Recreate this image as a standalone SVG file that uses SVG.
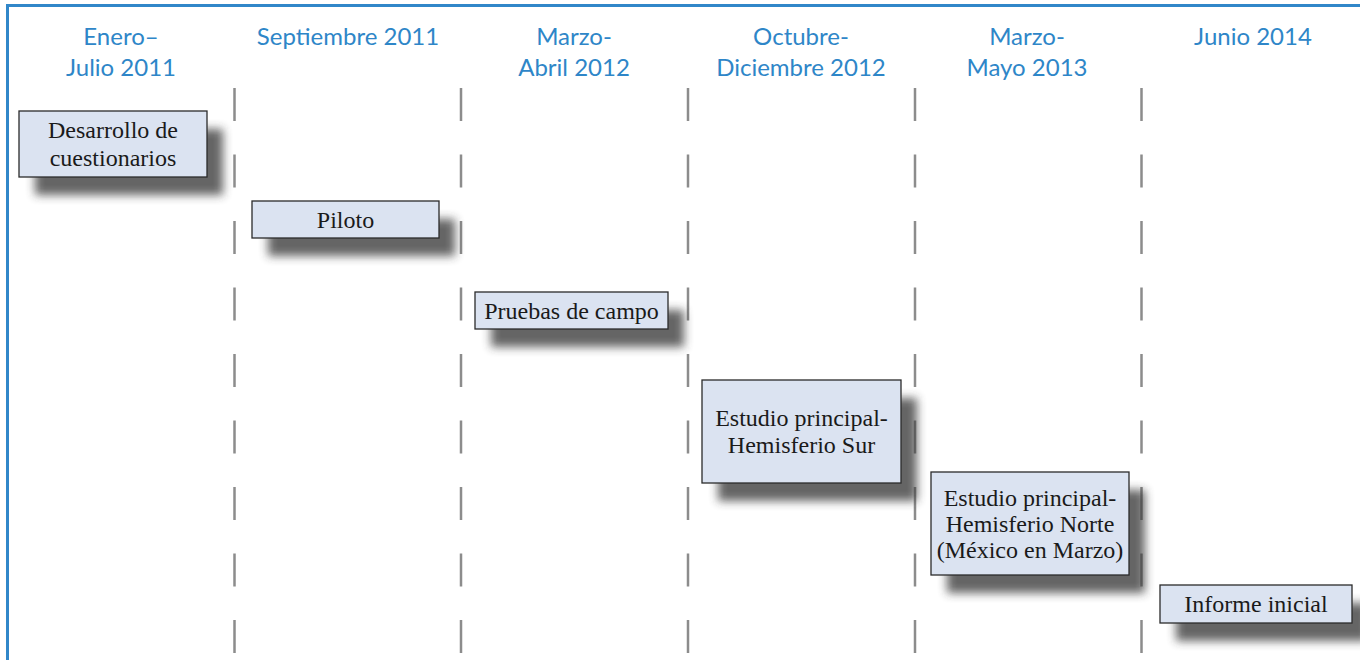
<svg xmlns="http://www.w3.org/2000/svg" width="1360" height="660" viewBox="0 0 1360 660">
<style>
.hd{font-family:Lato,"Open Sans",sans-serif;font-size:24px;fill:#2e86c8;text-anchor:middle}
.bx{fill:#dbe3f1;stroke:#2b2b2b;stroke-width:1.3}
.sh{fill:#333333;opacity:0.75;filter:url(#blur)}
.tx{font-family:"Liberation Serif","Times New Roman",serif;font-size:24px;fill:#1a1a1a;text-anchor:middle}
.dash{stroke:#8c8c8c;stroke-width:2.5;stroke-dasharray:33 33.5;fill:none}
</style>
<defs>
<filter id="blur" x="-20%" y="-50%" width="140%" height="200%"><feGaussianBlur stdDeviation="5"/></filter>
</defs>
<rect width="1360" height="660" fill="#ffffff"/>
<path d="M7.5 660 V5.5 H1360" fill="none" stroke="#3187c9" stroke-width="3"/>
<g id="headers">
<text class="hd" x="121" y="45">Enero–</text>
<text class="hd" x="121" y="76">Julio 2011</text>
<text class="hd" x="348" y="45">Septiembre 2011</text>
<text class="hd" x="574" y="45">Marzo-</text>
<text class="hd" x="574" y="76">Abril 2012</text>
<text class="hd" x="801" y="45">Octubre-</text>
<text class="hd" x="801" y="76">Diciembre 2012</text>
<text class="hd" x="1027" y="45">Marzo-</text>
<text class="hd" x="1027" y="76">Mayo 2013</text>
<text class="hd" x="1253" y="45">Junio 2014</text>
</g>
<g id="connectors">
<path class="dash" d="M234.5 88 V654"/>
<path class="dash" d="M461 88 V654"/>
<path class="dash" d="M688 88 V654"/>
<path class="dash" d="M915 88 V654"/>
<path class="dash" d="M1141.5 88 V654"/>
</g>
<g id="n1">
<rect class="sh" x="35" y="129" width="188" height="66"/>
<rect class="bx" x="19" y="111" width="188" height="66"/>
<text class="tx" x="113" y="138">Desarrollo de</text>
<text class="tx" x="113" y="166">cuestionarios</text>
</g>
<g id="n2">
<rect class="sh" x="268" y="219" width="187" height="37"/>
<rect class="bx" x="252" y="201" width="187" height="37"/>
<text class="tx" x="345.5" y="227.5">Piloto</text>
</g>
<g id="n3">
<rect class="sh" x="491" y="310" width="193" height="37"/>
<rect class="bx" x="475" y="292" width="193" height="37"/>
<text class="tx" x="571.5" y="318.5">Pruebas de campo</text>
</g>
<g id="n4">
<rect class="sh" x="718" y="398" width="199" height="103"/>
<rect class="bx" x="702" y="380" width="199" height="103"/>
<text class="tx" x="801.5" y="426">Estudio principal-</text>
<text class="tx" x="801.5" y="453">Hemisferio Sur</text>
</g>
<g id="n5">
<rect class="sh" x="947" y="490" width="198" height="103"/>
<rect class="bx" x="931" y="472" width="198" height="103"/>
<text class="tx" x="1030" y="505.5">Estudio principal-</text>
<text class="tx" x="1030" y="531.5">Hemisferio Norte</text>
<text class="tx" x="1030" y="557.5">(México en Marzo)</text>
</g>
<g id="n6">
<rect class="sh" x="1176" y="603" width="192" height="38"/>
<rect class="bx" x="1160" y="585" width="192" height="38"/>
<text class="tx" x="1256" y="612">Informe inicial</text>
</g>
</svg>
